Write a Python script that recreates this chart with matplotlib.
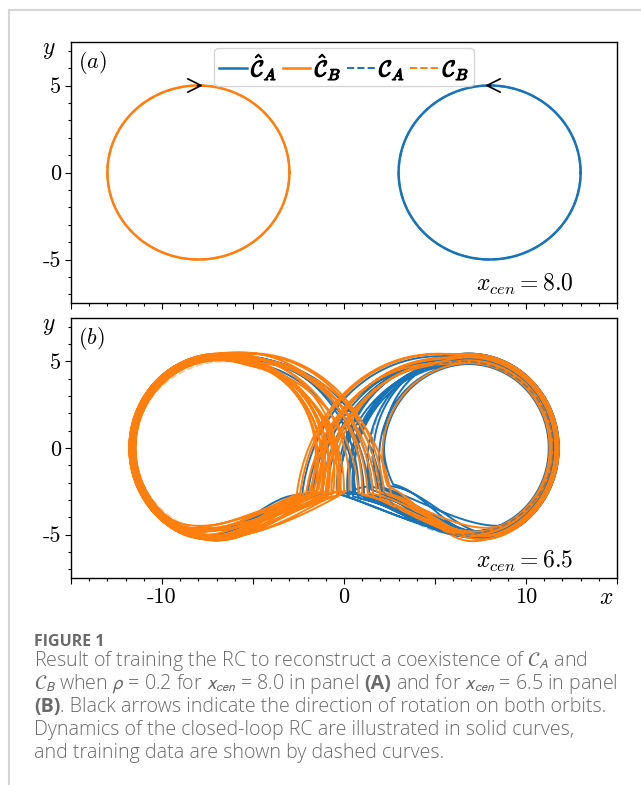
import numpy as np
import matplotlib
matplotlib.use('Agg')
import matplotlib.pyplot as plt
import matplotlib.patheffects as pe
from matplotlib.lines import Line2D
from matplotlib.ticker import MultipleLocator

plt.rcParams['font.family'] = 'serif'
plt.rcParams['font.serif'] = ['cmr10']
plt.rcParams['mathtext.fontset'] = 'cm'
plt.rcParams['axes.unicode_minus'] = False

BLUE = '#1874b8'
ORANGE = '#ff7f0e'

# axis ticks shared by both panels
x_major = [-15, -10, -5, 0, 5, 10, 15]
x_labels = ['', '-10', '', '0', '', '10', '']
y_major = [-5, 0, 5]
y_labels = ['-5', '0', '5']

# panel (a): x_cen = 8.0, both orbits are plain circles
a_xcen = 8.0
a_radius = 5.0

# panel (b): x_cen = 6.5, training circles and chaotic closed-loop runs
b_xcen = 6.5
b_radius = 5.0
# the RC lobes sit a bit further out and are slightly taller than wide
lobe_shift = 0.35
lobe_stretch = 1.1

# closed-loop run started on C_B (orange); one entry per turn around a lobe
hatB_start = (0.1, -2.5)
hatB_side = ['L', 'L', 'R', 'L', 'L', 'L', 'R', 'L', 'L', 'R',
             'R', 'L', 'L', 'L', 'L', 'R', 'L', 'L', 'R', 'L',
             'L', 'R', 'L', 'L', 'L', 'R', 'L', 'R', 'L', 'L']
hatB_radius = [4.80, 4.70, 4.85, 4.90, 4.65, 4.85, 4.55, 4.75, 4.95, 4.45,
               4.90, 4.70, 4.80, 4.60, 4.90, 4.75, 4.85, 4.70, 4.60, 4.95,
               4.65, 4.80, 4.75, 4.88, 4.62, 4.95, 4.82, 4.50, 4.72, 4.92]
hatB_join = [-70, -85, -60, -45, -75, -55, -80, -50, -65, -70,
             -85, -60, -42, -78, -55, -68, -88, -48, -72, -58,
             -82, -64, -52, -76, -46, -66, -84, -56, -74, -62]
hatB_leave = [98, 93, 103, 96, 106, 90, 102, 97, 88, 110,
              95, 103, 99, 107, 92, 105, 98, 94, 102, 89,
              104, 97, 101, 91, 108, 96, 100, 93, 104, 98]
hatB_lift = [0.0, 0.1, -0.1, 0.2, 0.0, -0.2, 0.3, 0.1, 0.0, 0.2,
             -0.1, 0.0, 0.2, -0.1, 0.1, 0.0, 0.2, -0.1, 0.3, 0.0,
             0.1, -0.2, 0.15, 0.0, -0.1, 0.2, 0.0, 0.1, -0.15, 0.05]
hatB_tip_x = [-0.6, 1.6, -1.8, -1.2, -0.2, 2.2, -1.2, -1.7, 1.0, 2.4,
              -2.4, -0.4, -1.4, 0.0, 2.0, -1.0, -1.0, 1.3, -2.1, -0.3,
              2.6, -1.5, -0.9, -1.9, 0.8, -2.6, 1.8, -0.7, -1.3, 0.3]
hatB_tip_y = [-2.6, -2.8, -2.7, -2.5, -2.7, -2.6, -2.9, -2.6, -2.7, -2.2,
              -2.6, -2.8, -2.4, -2.6, -2.9, -2.5, -2.7, -2.6, -2.8, -2.5,
              -2.7, -2.6, -2.8, -2.5, -2.6, -2.7, -2.5, -2.8, -2.6, -2.4]

# closed-loop run started on C_A (blue)
hatA_start = (-0.1, -2.6)
hatA_side = ['R', 'R', 'L', 'R', 'R', 'R', 'L', 'R', 'R', 'L', 'R', 'R',
             'R', 'L', 'R', 'R', 'L', 'R', 'R', 'L', 'R', 'R', 'R', 'R']
hatA_radius = [4.70, 4.95, 4.75, 4.45, 4.80, 4.60, 4.85, 4.90, 4.50, 4.65, 4.95, 4.40,
               4.75, 4.80, 4.65, 4.85, 4.70, 4.90, 4.55, 4.78, 4.62, 4.88, 4.48, 4.72]
hatA_join = [-75, -50, -80, -65, -45, -70, -85, -60, -88, -72, -55, -78,
             -66, -48, -82, -58, -76, -62, -86, -52, -68, -44, -80, -57]
hatA_leave = [100, 108, 94, 102, 110, 104, 92, 106, 98, 96, 101, 110,
              99, 93, 107, 97, 102, 105, 95, 100, 109, 98, 103, 96]
hatA_lift = [0.0, 0.2, 0.3, -0.1, 0.0, 2.5, 0.1, 0.2, 0.0, 0.4, -0.1, 0.1,
             0.3, 0.2, 0.0, 0.1, 0.5, 0.0, 0.2, -0.1, 0.3, 0.0, 0.1, 0.2]
hatA_tip_x = [0.6, -1.5, 1.6, 2.2, 0.2, -2.0, 0.8, 1.5, -1.2, 2.1, -0.2, 2.5,
              -0.9, 1.1, 0.3, -2.3, 0.6, 1.9, -1.7, 1.4, -0.3, 2.7, 0.5, -0.4]
hatA_tip_y = [-2.6, -2.8, -2.7, -2.3, -2.8, -2.6, -2.9, -2.4, -2.7, -2.6, -2.7, -2.2,
              -2.6, -2.8, -2.5, -2.7, -2.6, -2.3, -2.5, -2.7, -2.6, -2.1, -2.8, -2.5]


def circle(cx, r, n=400):
    t = np.linspace(0, 2 * np.pi, n)
    return cx + r * np.cos(t), r * np.sin(t)


def unit(v):
    v = np.asarray(v, dtype=float)
    return v / np.hypot(*v)


def hermite(p0, p1, d0, d1, n=80):
    chord = np.hypot(*(p1 - p0))
    m0 = chord * unit(d0)
    m1 = chord * unit(d1)
    t = np.linspace(0, 1, n)[:, None]
    return ((2 * t**3 - 3 * t**2 + 1) * p0 + (t**3 - 2 * t**2 + t) * m0
            + (-2 * t**3 + 3 * t**2) * p1 + (t**3 - t**2) * m1)


def lobe_run(start, sides, radii, joins, leaves, lifts, tips_x, tips_y):
    # right lobe turns counter-clockwise, left lobe clockwise;
    # angles are given for the right lobe and mirrored for the left one
    k = lobe_stretch
    pts = []
    tip = np.array(start, dtype=float)
    come = None
    for side, r, aj, al, lift, tx, ty in zip(sides, radii, joins, leaves,
                                             lifts, tips_x, tips_y):
        s = 1 if side == 'R' else -1
        cx = s * (b_xcen + lobe_shift)
        aj, al = np.radians(aj), np.radians(al)
        join = np.array([cx + s * r * np.cos(aj), k * r * np.sin(aj)])
        d0 = unit([s, lift])
        if come is not None:
            d0 = d0 + 0.4 * unit(come)
        pts.append(hermite(tip, join, d0, [-s * np.sin(aj), k * np.cos(aj)]))

        # ride the ring, then spiral out towards the next tip
        rel = np.array([s * (tx - cx), ty / k])
        at = np.arctan2(rel[1], rel[0]) % (2 * np.pi)
        while at <= al:
            at += 2 * np.pi
        rt = np.hypot(*rel)
        a = np.linspace(aj, at, 500)
        u = np.clip((a - al) / (at - al), 0, 1)
        rr = r + (rt - r) * u**1.4
        seg = np.column_stack([cx + s * rr * np.cos(a), k * rr * np.sin(a)])
        pts.append(seg)
        come = seg[-1] - seg[-3]
        tip = np.array([tx, ty])
    return np.vstack(pts)


W, H = 641, 785
fig = plt.figure(figsize=(W / 100, H / 100), dpi=100)


def axes_box(left, top, right, bottom):
    return [left / W, 1 - bottom / H, (right - left) / W, (bottom - top) / H]


ax_a = fig.add_axes(axes_box(71, 42, 617, 303))
ax_b = fig.add_axes(axes_box(71, 318, 617, 578))


def style(ax, show_x):
    ax.set_xlim(-15, 15)
    ax.set_ylim(-7.5, 7.5)
    ax.set_xticks(x_major, x_labels if show_x else [''] * len(x_major))
    ax.set_yticks(y_major, y_labels)
    ax.xaxis.set_minor_locator(MultipleLocator(1))
    ax.yaxis.set_minor_locator(MultipleLocator(1))
    ax.tick_params(which='both', direction='out', top=False, right=False,
                   labelsize=16, width=0.8)
    ax.tick_params(which='major', length=4, pad=3)
    ax.tick_params(which='minor', length=2.5)
    for sp in ax.spines.values():
        sp.set_linewidth(1.0)


def panel_text(ax, tag, xcen_label, cen_y):
    ax.text(0.012, 0.975, tag, transform=ax.transAxes, ha='left',
            va='top', fontsize=16)
    ax.text(0.92, cen_y, xcen_label, transform=ax.transAxes,
            ha='right', va='center', fontsize=17)
    ax.text(-0.04, 0.969, '$y$', transform=ax.transAxes, ha='center',
            va='center', fontsize=17)


# ---- panel (a)
h1, = ax_a.plot(*circle(a_xcen, a_radius), color=BLUE, lw=1.8,
                label=r'$\hat{\mathcal{C}}_A$')
h2, = ax_a.plot(*circle(-a_xcen, a_radius), color=ORANGE, lw=1.8,
                label=r'$\hat{\mathcal{C}}_B$')
h3, = ax_a.plot(*circle(a_xcen, a_radius), color=BLUE, lw=1.4, ls='--',
                label=r'$\mathcal{C}_A$')
h4, = ax_a.plot(*circle(-a_xcen, a_radius), color=ORANGE, lw=1.4, ls='--',
                label=r'$\mathcal{C}_B$')
# direction of rotation at the top of each orbit
for cx, d in [(-a_xcen, 1), (a_xcen, -1)]:
    ax_a.annotate('', xy=(cx + 0.25 * d, a_radius), xytext=(cx - 0.05 * d, a_radius),
                  arrowprops=dict(arrowstyle='->', color='k', lw=1.2,
                                  mutation_scale=24, shrinkA=0, shrinkB=0))
style(ax_a, False)
leg = ax_a.legend(handles=[h1, h2, h3, h4], loc='upper center', ncol=4,
                  bbox_to_anchor=(0.5, 1.0), borderaxespad=0.25, fontsize=16,
                  handlelength=1.25, handletextpad=0.2, columnspacing=0.25,
                  borderpad=0.2, framealpha=0.8)
for t in leg.get_texts():
    t.set_path_effects([pe.withStroke(linewidth=0.9, foreground='k')])
panel_text(ax_a, '$(a)$', r'$x_{cen} = 8.0$', 0.07)

# ---- panel (b)
run_A = lobe_run(hatA_start, hatA_side, hatA_radius, hatA_join, hatA_leave,
                 hatA_lift, hatA_tip_x, hatA_tip_y)
run_B = lobe_run(hatB_start, hatB_side, hatB_radius, hatB_join, hatB_leave,
                 hatB_lift, hatB_tip_x, hatB_tip_y)
ax_b.plot(run_A[:, 0], run_A[:, 1], color=BLUE, lw=1.4)
ax_b.plot(run_B[:, 0], run_B[:, 1], color=ORANGE, lw=1.4)
ax_b.plot(*circle(b_xcen, b_radius), color=BLUE, lw=1.3, ls='--', alpha=0.5)
ax_b.plot(*circle(-b_xcen, b_radius), color=ORANGE, lw=1.3, ls='--', alpha=0.4)
style(ax_b, True)
panel_text(ax_b, '$(b)$', r'$x_{cen} = 6.5$', 0.062)
ax_b.text(0.98, -0.077, '$x$', transform=ax_b.transAxes, ha='center',
          va='center', fontsize=17)

# ---- page frame
frame = dict(color='#d6d6d6', lw=1.5, transform=fig.transFigure)
fig.add_artist(Line2D([9 / W, 1], [1 - 10 / H, 1 - 10 / H], **frame))
fig.add_artist(Line2D([9 / W, 9 / W], [0, 1 - 10 / H], **frame))

# ---- caption
renderer = fig.canvas.get_renderer()
CAP = dict(family=['Open Sans', 'DejaVu Sans'], color='#6a6a6a',
           math_fontfamily='stixsans', va='baseline')

caption = [
    [('Result of training the RC to reconstruct a coexistence of '
      r'$\mathcal{C}_A$ and', 'light', 0)],
    [(r'$\mathcal{C}_B$ when $\rho$ = 0.2 for $x_{cen}$ = 8.0 in panel',
      'light', 1),
     ('(A)', 'bold', 1),
     (r'and for $x_{cen}$ = 6.5 in panel', 'light', 0)],
    [('(B)', 'bold', 0),
     ('. Black arrows indicate the direction of rotation on both orbits.',
      'light', 0)],
    [('Dynamics of the closed-loop RC are illustrated in solid curves,',
      'light', 0)],
    [('and training data are shown by dashed curves.', 'light', 0)],
]


def width(text, size, weight='light'):
    t = fig.text(0, 0, text, fontsize=size, fontweight=weight, **CAP)
    w = t.get_window_extent(renderer).width
    t.remove()
    return w


def line_width(parts, size):
    gap = width('n n', size) - width('nn', size)
    return sum(width(p, size, wt) + g * gap for p, wt, g in parts)


cap_size = 10 * 584 / line_width(caption[1], 10)
space = width('n n', cap_size) - width('nn', cap_size)

fig.text(34 / W, 1 - 646 / H, 'FIGURE 1', fontsize=cap_size * 0.82,
         fontweight='bold', **CAP)
for i, parts in enumerate(caption):
    x = 34
    y = 1 - (666 + 23 * i) / H
    for text, weight, gap in parts:
        t = fig.text(x / W, y, text, fontsize=cap_size, fontweight=weight, **CAP)
        x += t.get_window_extent(renderer).width + gap * space

fig.savefig('out.png', dpi=100)
